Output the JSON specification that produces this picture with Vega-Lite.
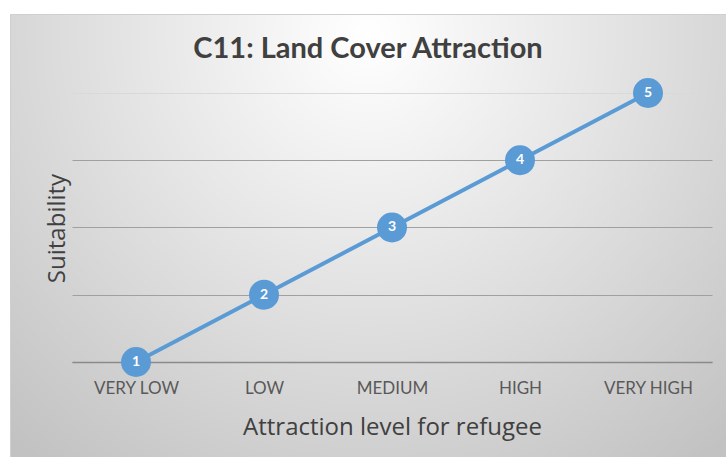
{
  "$schema": "https://vega.github.io/schema/vega-lite/v6.json",
  "autosize": {"type": "none"},
  "padding": {"left": 10, "top": 14, "right": 0, "bottom": 0},
  "width": 716,
  "height": 443,
  "background": "#ffffff",
  "view": {
    "stroke": "#cfcfcf",
    "strokeWidth": 1,
    "fill": {
      "gradient": "radial",
      "x1": 0.5, "y1": 0.22, "r1": 0,
      "x2": 0.5, "y2": 0.22, "r2": 0.75,
      "stops": [
        {"offset": 0, "color": "#ffffff"},
        {"offset": 0.45, "color": "#e4e4e4"},
        {"offset": 1, "color": "#c2c2c2"}
      ]
    }
  },
  "title": {
    "text": "C11: Land Cover Attraction",
    "font": "Lato",
    "fontSize": 29,
    "fontWeight": "bold",
    "color": "#404040",
    "anchor": "middle",
    "frame": "group",
    "baseline": "middle",
    "offset": -64
  },
  "data": {
    "values": [
      {"level": "VERY LOW", "suitability": 1},
      {"level": "LOW", "suitability": 2},
      {"level": "MEDIUM", "suitability": 3},
      {"level": "HIGH", "suitability": 4},
      {"level": "VERY HIGH", "suitability": 5}
    ]
  },
  "encoding": {
    "x": {
      "field": "level",
      "type": "ordinal",
      "sort": null,
      "scale": {"type": "point", "range": [62, 702], "padding": 0.5},
      "axis": {
        "orient": "bottom",
        "offset": -95,
        "title": "Attraction level for refugee",
        "titleFont": "Open Sans",
        "titleFontSize": 24,
        "titleFontWeight": "normal",
        "titleColor": "#404040",
        "titlePadding": 19,
        "labelFont": "Lato",
        "labelFontSize": 17,
        "labelColor": "#595959",
        "labelAngle": 0,
        "labelPadding": 18,
        "ticks": false,
        "tickSize": 0,
        "domainColor": "#8a8a8a",
        "domainWidth": 1.5,
        "grid": false
      }
    },
    "y": {
      "field": "suitability",
      "type": "quantitative",
      "scale": {"domain": [-0.413, 6.175], "nice": false, "zero": false},
      "axis": {
        "values": [1, 2, 3, 4, 5],
        "labels": false,
        "ticks": false,
        "domain": false,
        "grid": true,
        "gridColor": {"condition": {"test": "datum.value == 5", "value": "#d9d9d9"}, "value": "#a0a0a0"},
        "gridWidth": 1,
        "title": "Suitability",
        "titleFont": "Open Sans",
        "titleFontSize": 24,
        "titleFontWeight": "normal",
        "titleColor": "#404040",
        "titleAngle": -90,
        "titleAlign": "center",
        "titleBaseline": "middle",
        "titleX": 47,
        "titleY": 214
      }
    }
  },
  "layer": [
    {
      "mark": {"type": "line", "color": "#5b9bd5", "strokeWidth": 4}
    },
    {
      "mark": {"type": "point", "filled": true, "shape": "circle", "size": 900, "color": "#5b9bd5", "opacity": 1}
    },
    {
      "mark": {"type": "text", "color": "#ffffff", "font": "Lato", "fontWeight": "bold", "fontSize": 14, "align": "center", "baseline": "middle"},
      "encoding": {"text": {"field": "suitability", "type": "quantitative"}}
    }
  ]
}
